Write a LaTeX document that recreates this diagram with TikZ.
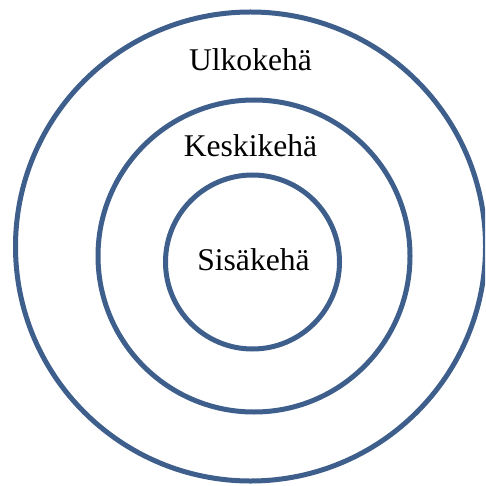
\documentclass[tikz,border=0pt]{standalone}
\usepackage{fontspec}
\setmainfont{Liberation Serif}
\definecolor{ringblue}{RGB}{62,94,140}
\begin{document}
\begin{tikzpicture}[x=1pt,y=-1pt,
  ring/.style={draw=ringblue,line width=5pt},
  lbl/.style={anchor=base,inner sep=0pt,font=\fontsize{31.6}{36}\selectfont}]
\useasboundingbox (0,0) rectangle (485,486);
\begin{scope}
\clip (0,0) rectangle (485,486);
\draw[ring] (250.5,246.5) ellipse [x radius=235, y radius=234.5];
\end{scope}
\draw[ring] (254,256) circle (156);
\draw[ring] (252.5,262) circle (87);
\node[lbl] (outer) at (250.5,71) {Ulkokehä};
\node[lbl] (middle) at (250.5,157) {Keskikehä};
\node[lbl] (inner) at (253.5,270) {Sisäkehä};
\end{tikzpicture}
\end{document}
